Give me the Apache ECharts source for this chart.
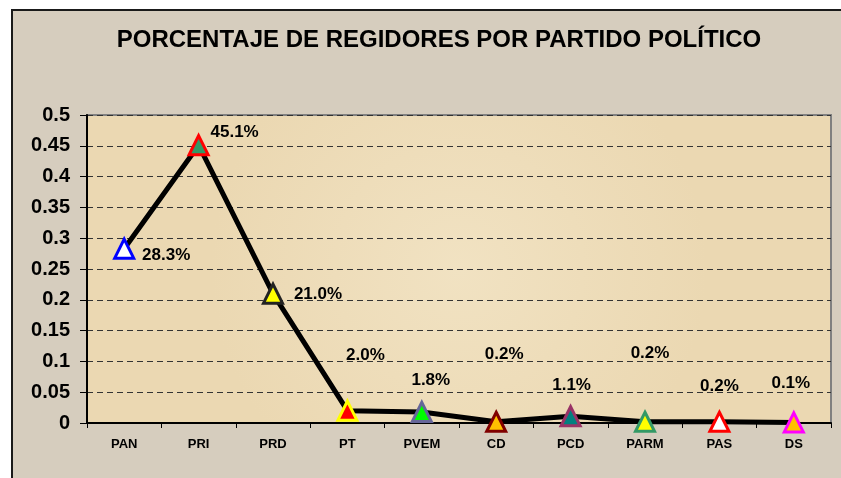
<!DOCTYPE html>
<html>
<head>
<meta charset="utf-8">
<script src="https://cdn.jsdelivr.net/npm/echarts@6/dist/echarts.min.js"></script>
<style>
  html, body { margin: 0; padding: 0; background: #fff; }
  #chart { width: 841px; height: 478px; }
</style>
</head>
<body>
<div id="chart"></div>
<script>
const titleText = 'PORCENTAJE DE REGIDORES POR PARTIDO POLÍTICO'
const parties = ['PAN', 'PRI', 'PRD', 'PT', 'PVEM', 'CD', 'PCD', 'PARM', 'PAS', 'DS']
const shares = [0.283, 0.451, 0.210, 0.020, 0.018, 0.002, 0.011, 0.002, 0.002, 0.001]
const yTicks = [0, 0.05, 0.1, 0.15, 0.2, 0.25, 0.3, 0.35, 0.4, 0.45, 0.5]

// marker styles, one per party
const markerFill = ['#ffffff', '#339966', '#ffff00', '#ff0000', '#00ff00', '#ffc000', '#008080', '#ffff00', '#ffffff', '#ffc000']
const markerBorder = ['#0000ff', '#ff0000', '#222222', '#ffff00', '#666699', '#800000', '#993366', '#339966', '#ff0000', '#ff00ff']
// where each data label sits, relative to its point
const labelOffsets = [[42, 7], [36, -13], [45, 1], [18, -55], [9, -32], [8, -67], [1, -31], [5, -68], [0, -35], [-3, -39]]

const chart = echarts.init(document.getElementById('chart'))

chart.setOption({
  animation: false,
  graphic: [{
    type: 'rect',
    z: -10,
    shape: { x: 12, y: 10, width: 840, height: 480 },
    style: { fill: '#d6cdbe', stroke: '#1a1a1a', lineWidth: 2 },
  }],
  title: {
    text: titleText,
    left: 434,
    top: 23,
    textAlign: 'center',
    textStyle: {
      fontFamily: 'Liberation Sans, Arial',
      fontWeight: 'bold',
      fontSize: 24,
      color: '#000',
    },
  },
  grid: {
    left: 87,
    right: 10,
    top: 115,
    bottom: 55,
    show: true,
    backgroundColor: {
      type: 'radial',
      x: 0.5,
      y: 0.5,
      r: 0.8,
      colorStops: [
        { offset: 0, color: '#f1e2c2' },
        { offset: 1, color: '#ebd8b2' },
      ],
    },
    borderColor: '#808080',
    borderWidth: 2,
  },
  xAxis: {
    type: 'category',
    data: parties,
    boundaryGap: true,
    axisLine: { lineStyle: { color: '#000', width: 2 } },
    axisTick: { show: true, length: 5, lineStyle: { color: '#000' } },
    axisLabel: {
      margin: 15,
      color: '#000',
      fontFamily: 'Liberation Sans, Arial',
      fontWeight: 'bold',
      fontSize: 13,
    },
  },
  yAxis: {
    type: 'value',
    min: yTicks[0],
    max: yTicks[yTicks.length - 1],
    interval: yTicks[1] - yTicks[0],
    axisLine: { show: true, lineStyle: { color: '#000', width: 2 } },
    axisTick: { show: true, length: 7, lineStyle: { color: '#000' } },
    axisLabel: {
      margin: 17,
      color: '#000',
      fontFamily: 'Liberation Sans, Arial',
      fontWeight: 'bold',
      fontSize: 20,
      formatter: (v) => String(+v.toFixed(2)),
    },
    splitLine: {
      lineStyle: { color: '#333', type: [6, 4], width: 1 },
    },
  },
  series: [{
    type: 'line',
    data: shares.map((v, i) => ({
      value: v,
      itemStyle: { color: markerFill[i], borderColor: markerBorder[i], borderWidth: 3 },
      label: { offset: labelOffsets[i] },
    })),
    symbol: 'triangle',
    symbolSize: 19,
    lineStyle: { color: '#000', width: 5 },
    label: {
      show: true,
      position: 'inside',
      color: '#000',
      fontFamily: 'Liberation Sans, Arial',
      fontWeight: 'bold',
      fontSize: 17,
      formatter: (p) => (p.value * 100).toFixed(1) + '%',
    },
  }],
})
</script>
</body>
</html>
